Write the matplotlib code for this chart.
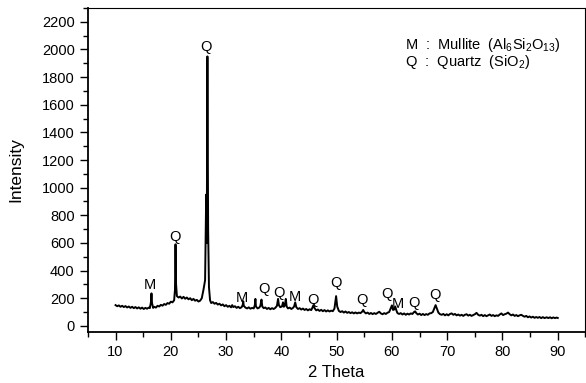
import matplotlib
matplotlib.use("Agg")
import matplotlib.pyplot as plt
from matplotlib.ticker import MultipleLocator

plt.rcParams['font.family'] = ['Liberation Sans', 'DejaVu Sans']
plt.rcParams['mathtext.fontset'] = 'custom'
plt.rcParams['mathtext.rm'] = 'Liberation Sans'

# XRD pattern: (2 theta, intensity)
two_theta = [
    10.0, 10.3, 10.6, 10.9, 11.2, 11.5, 11.8, 12.1, 12.4, 12.7, 13.0, 13.3, 13.6, 13.9, 14.2, 14.5,
    14.8, 15.1, 15.4, 15.7, 16.0, 16.2, 16.4, 16.5, 16.6, 16.8, 17.0, 17.3, 17.6, 17.9, 18.2, 18.5,
    18.8, 19.1, 19.4, 19.7, 20.0, 20.3, 20.6, 20.75, 20.85, 20.95, 21.1, 21.4, 21.7, 22.0, 22.3, 22.6,
    22.9, 23.2, 23.5, 23.8, 24.1, 24.4, 24.7, 25.0, 25.3, 25.6, 25.9, 26.2, 26.4, 26.5, 26.62, 26.75,
    26.9, 27.1, 27.3, 27.6, 27.9, 28.2, 28.5, 28.8, 29.1, 29.4, 29.7, 30.0, 30.3, 30.6, 30.9, 31.1,
    31.3, 31.6, 31.9, 32.2, 32.5, 32.8, 33.0, 33.1, 33.2, 33.5, 33.8, 34.1, 34.4, 34.7, 35.0, 35.2,
    35.3, 35.4, 35.7, 36.0, 36.2, 36.4, 36.55, 36.8, 37.1, 37.4, 37.7, 38.0, 38.3, 38.6, 38.9, 39.2,
    39.4, 39.55, 39.8, 40.1, 40.3, 40.45, 40.65, 40.8, 40.95, 41.2, 41.5, 41.8, 42.1, 42.3, 42.5, 42.7,
    43.0, 43.3, 43.6, 43.9, 44.2, 44.5, 44.8, 45.1, 45.4, 45.6, 45.8, 46.0, 46.3, 46.6, 46.9, 47.2,
    47.5, 47.8, 48.1, 48.4, 48.7, 49.0, 49.3, 49.6, 49.9, 50.1, 50.4, 50.7, 51.0, 51.3, 51.6, 51.9,
    52.2, 52.5, 52.8, 53.1, 53.4, 53.7, 54.0, 54.3, 54.6, 54.8, 55.0, 55.3, 55.6, 55.9, 56.2, 56.5,
    56.8, 57.1, 57.4, 57.7, 58.0, 58.3, 58.6, 58.9, 59.2, 59.5, 59.8, 60.0, 60.2, 60.4, 60.6, 60.8,
    61.0, 61.3, 61.6, 61.9, 62.2, 62.5, 62.8, 63.1, 63.4, 63.7, 64.0, 64.2, 64.4, 64.7, 65.0, 65.3,
    65.6, 65.9, 66.2, 66.5, 66.8, 67.1, 67.4, 67.7, 67.9, 68.1, 68.4, 68.7, 69.0, 69.3, 69.6, 69.9,
    70.2, 70.5, 70.8, 71.1, 71.4, 71.7, 72.0, 72.3, 72.6, 72.9, 73.2, 73.5, 73.8, 74.1, 74.4, 74.7,
    75.0, 75.3, 75.6, 75.9, 76.2, 76.5, 76.8, 77.1, 77.4, 77.7, 78.0, 78.3, 78.6, 78.9, 79.2, 79.5,
    79.8, 80.1, 80.4, 80.7, 81.0, 81.3, 81.6, 81.9, 82.2, 82.5, 82.8, 83.1, 83.4, 83.7, 84.0, 84.3,
    84.6, 84.9, 85.2, 85.5, 85.8, 86.1, 86.4, 86.7, 87.0, 87.3, 87.6, 88.0, 88.3, 88.6, 88.9, 89.2,
    89.5, 89.8, 90.0,
]
intensity = [
    150, 142, 148, 138, 145, 136, 143, 133, 140, 130, 138, 128, 136, 126, 134, 124,
    132, 122, 130, 124, 132, 128, 170, 235, 165, 130, 138, 132, 145, 140, 152, 146,
    158, 152, 165, 160, 175, 170, 185, 260, 590, 300, 215, 205, 212, 198, 210, 196,
    205, 192, 200, 186, 195, 182, 188, 176, 182, 200, 260, 330, 950, 600, 1950, 700,
    280, 185, 165, 172, 160, 166, 154, 160, 148, 155, 142, 150, 138, 145, 134, 150,
    136, 142, 130, 138, 128, 135, 150, 178, 145, 132, 126, 134, 124, 130, 126, 150,
    195, 140, 126, 132, 145, 190, 140, 128, 133, 122, 130, 120, 128, 122, 130, 145,
    195, 150, 135, 140, 170, 138, 150, 195, 140, 126, 132, 122, 130, 140, 170, 135,
    122, 128, 118, 125, 115, 122, 112, 120, 114, 130, 150, 128, 112, 118, 108, 116,
    106, 114, 104, 112, 104, 110, 106, 125, 215, 140, 108, 100, 106, 96, 104, 94,
    100, 92, 98, 90, 97, 90, 96, 92, 102, 115, 100, 90, 96, 86, 93, 85,
    92, 86, 94, 102, 90, 84, 92, 86, 95, 100, 130, 148, 115, 118, 140, 112,
    92, 86, 92, 82, 90, 80, 88, 82, 90, 86, 100, 105, 92, 82, 88, 78,
    86, 78, 85, 80, 90, 92, 100, 130, 150, 128, 96, 84, 80, 86, 76, 84,
    76, 86, 90, 80, 86, 76, 82, 74, 80, 72, 80, 84, 74, 80, 72, 78,
    84, 94, 80, 74, 80, 70, 78, 70, 76, 82, 72, 78, 70, 76, 72, 82,
    90, 78, 84, 88, 96, 84, 76, 82, 72, 78, 70, 76, 80, 72, 66, 72,
    62, 68, 60, 66, 58, 64, 58, 64, 56, 63, 56, 62, 56, 62, 55, 61,
    56, 60, 57,
]

# phase labels: letter, 2 theta, intensity of label centre
peak_labels = ['M', 'Q', 'Q', 'M', 'Q', 'Q', 'M', 'Q', 'Q', 'Q', 'Q', 'M', 'Q', 'Q']
label_x = [16.3, 20.8, 26.4, 32.9, 36.9, 39.6, 42.5, 45.7, 49.9, 54.6, 59.1, 61.1, 64.0, 67.8]
label_y = [297, 644, 2020, 203, 268, 239, 210, 188, 311, 188, 232, 159, 167, 224]

fig = plt.figure(figsize=(5.86, 3.83), dpi=100)
ax = fig.add_axes([0.150, 0.133, 0.849, 0.846])

ax.plot(two_theta, intensity, color='black', linewidth=1.4)

for lab, x, y in zip(peak_labels, label_x, label_y):
    ax.text(x, y, lab, ha='center', va='center', fontsize=10.5)

ax.text(0.637, 0.886, r'M  :  Mullite  (Al$_6$Si$_2$O$_{13}$)', transform=ax.transAxes,
        fontsize=10.5, va='center')
ax.text(0.637, 0.833, r'Q  :  Quartz  (SiO$_2$)', transform=ax.transAxes,
        fontsize=10.5, va='center')

ax.set_xlim(5, 95)
ax.set_ylim(-45, 2300)
ax.xaxis.set_major_locator(MultipleLocator(10))
ax.xaxis.set_minor_locator(MultipleLocator(5))
ax.yaxis.set_major_locator(MultipleLocator(200))
ax.yaxis.set_minor_locator(MultipleLocator(100))
ax.tick_params(which='major', direction='out', length=6, width=1, labelsize=10.5)
ax.tick_params(which='minor', direction='out', length=3.5, width=1)
for side in ['left', 'bottom']:
    ax.spines[side].set_linewidth(1.3)
for side in ['top', 'right']:
    ax.spines[side].set_linewidth(0.8)

ax.set_xlabel('2 Theta', fontsize=12)
ax.set_ylabel('Intensity', fontsize=12.5, labelpad=13)

fig.savefig('out.png', dpi=100)
